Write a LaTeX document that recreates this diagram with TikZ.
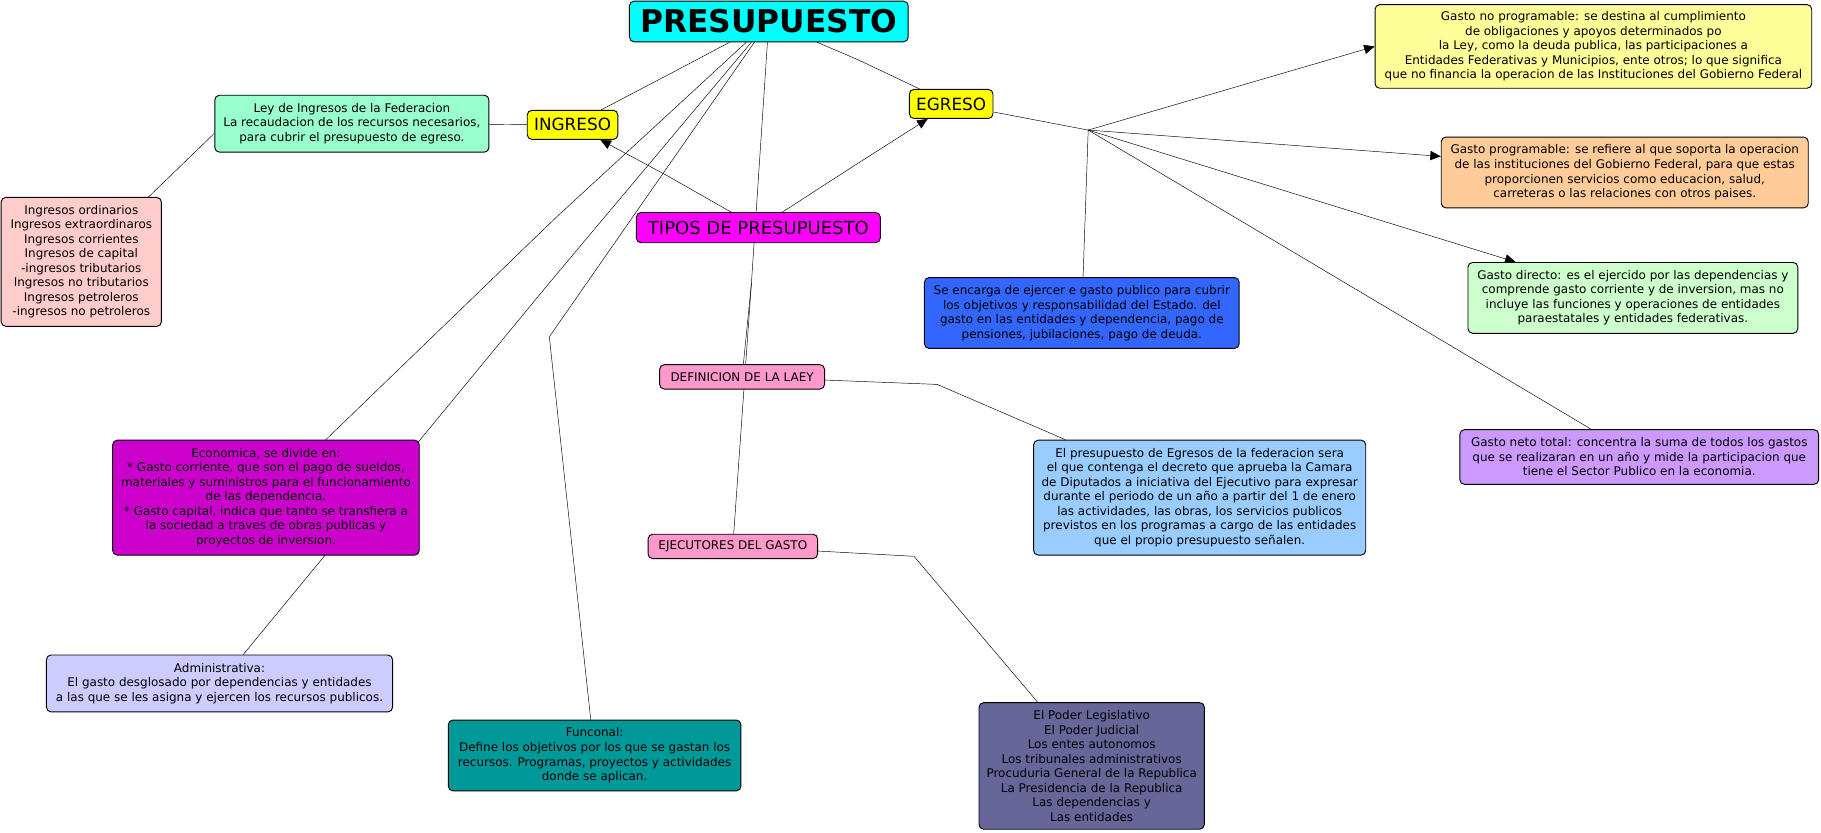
\documentclass[tikz,border=0pt]{standalone}
\usepackage{fontspec}
\setmainfont{DejaVu Sans}
\usetikzlibrary{arrows.meta,backgrounds}
\definecolor{Aqua}{HTML}{00FFFF}
\definecolor{Lemon}{HTML}{FFFF00}
\definecolor{Fuchsia}{HTML}{FF00FF}
\definecolor{Mint}{HTML}{99FFCC}
\definecolor{Blush}{HTML}{FFCCCC}
\definecolor{Cream}{HTML}{FFFF99}
\definecolor{Peach}{HTML}{FFCC99}
\definecolor{Pale}{HTML}{CCFFCC}
\definecolor{Lilac}{HTML}{CC99FF}
\definecolor{Royal}{HTML}{3366FF}
\definecolor{Pink}{HTML}{FF99CC}
\definecolor{Sky}{HTML}{99CCFF}
\definecolor{Orchid}{HTML}{CC00CC}
\definecolor{Lavender}{HTML}{CCCCFF}
\definecolor{Teal}{HTML}{009999}
\definecolor{Slate}{HTML}{666699}

\begin{document}
\begin{tikzpicture}[x=1pt,y=-1pt,line width=.8pt,
  concept/.style={draw,rounded corners=4pt,align=center,inner sep=1pt,font=\fontsize{10.3}{12.5}\selectfont},
  big/.style={concept,font=\fontsize{14.5}{17}\selectfont},
  tip/.style={-{Triangle[length=9pt,width=8pt]}}]
  \useasboundingbox (0,0) rectangle (1568,717);
  \node[concept,fill=Aqua,minimum width=240,minimum height=35,font=\fontsize{27}{30}\selectfont\bfseries] (pres) at (662,18.5) {PRESUPUESTO};
  \node[big,fill=Lemon,minimum width=78,minimum height=25] (ing) at (493,107.5) {INGRESO};
  \node[big,fill=Lemon,minimum width=72,minimum height=25] (egr) at (819,89.5) {EGRESO};
  \node[big,fill=Fuchsia,minimum width=210,minimum height=26,font=\fontsize{15.5}{18}\selectfont] (tipos) at (653,196) {TIPOS DE PRESUPUESTO};
  \node[concept,fill=Mint,minimum width=236,minimum height=49] (ley) at (303,106.5) {Ley de Ingresos de la Federacion\\La recaudacion de los recursos necesarios,\\para cubrir el presupuesto de egreso.};
  \node[concept,fill=Blush,minimum width=138,minimum height=111] (ingl) at (70,225.5) {Ingresos ordinarios\\Ingresos extraordinaros\\Ingresos corrientes\\Ingresos de capital\\-ingresos tributarios\\Ingresos no tributarios\\Ingresos petroleros\\-ingresos no petroleros};
  \node[concept,fill=Cream,minimum width=376,minimum height=72] (gnp) at (1372,40) {Gasto no programable: se destina al cumplimiento\\de obligaciones y apoyos determinados po\\la Ley, como la deuda publica, las participaciones a\\Entidades Federativas y Municipios, ente otros; lo que significa\\que no financia la operacion de las Instituciones del Gobierno Federal};
  \node[concept,fill=Peach,minimum width=316,minimum height=61] (gp) at (1399,148.5) {Gasto programable: se refiere al que soporta la operacion\\de las instituciones del Gobierno Federal, para que estas\\proporcionen servicios como educacion, salud,\\carreteras o las relaciones con otros paises.};
  \node[concept,fill=Pale,minimum width=284,minimum height=61] (gd) at (1406,256.5) {Gasto directo: es el ejercido por las dependencias y\\comprende gasto corriente y de inversion, mas no\\incluye las funciones y operaciones de entidades\\paraestatales y entidades federativas.};
  \node[concept,fill=Lilac,minimum width=309,minimum height=47] (gnt) at (1411.5,393.5) {Gasto neto total: concentra la suma de todos los gastos\\que se realizaran en un año y mide la participacion que\\tiene el Sector Publico en la economia.};
  \node[concept,fill=Royal,minimum width=271,minimum height=61] (enc) at (931.5,269.5) {Se encarga de ejercer e gasto publico para cubrir\\los objetivos y responsabilidad del Estado. del\\gasto en las entidades y dependencia, pago de\\pensiones, jubilaciones, pago de deuda.};
  \node[concept,fill=Pink,minimum width=142,minimum height=21] (defl) at (639,324.5) {DEFINICION DE LA LAEY};
  \node[concept,fill=Sky,minimum width=286,minimum height=99] (pef) at (1033,428.5) {El presupuesto de Egresos de la federacion sera\\el que contenga el decreto que aprueba la Camara\\de Diputados a iniciativa del Ejecutivo para expresar\\durante el periodo de un año a partir del 1 de enero\\las actividades, las obras, los servicios publicos\\previstos en los programas a cargo de las entidades\\que el propio presupuesto señalen.};
  \node[concept,fill=Pink,minimum width=146,minimum height=21] (ejec) at (631,470.5) {EJECUTORES DEL GASTO};
  \node[concept,fill=Orchid,minimum width=264,minimum height=99] (econ) at (229,428.5) {Economica, se divide en:\\* Gasto corriente, que son el pago de sueldos,\\materiales y suministros para el funcionamiento\\de las dependencia.\\* Gasto capital, indica que tanto se transfiera a\\la sociedad a traves de obras publicas y\\proyectos de inversion.};
  \node[concept,fill=Lavender,minimum width=298,minimum height=49] (adm) at (189,588.5) {Administrativa:\\El gasto desglosado por dependencias y entidades\\a las que se les asigna y ejercen los recursos publicos.};
  \node[concept,fill=Teal,minimum width=252,minimum height=61] (func) at (512,650.5) {Funconal:\\Define los objetivos por los que se gastan los\\recursos. Programas, proyectos y actividades\\donde se aplican.};
  \node[concept,fill=Slate,minimum width=194,minimum height=109] (pod) at (940,659.5) {El Poder Legislativo\\El Poder Judicial\\Los entes autonomos\\Los tribunales administrativos\\Procuduria General de la Republica\\La Presidencia de la Republica\\Las dependencias y\\Las entidades};
  \coordinate (m1) at (578,63);
  \coordinate (m2) at (740,52);
  \coordinate (m3) at (574,151);
  \coordinate (m4) at (735,143);
  \coordinate (m5) at (478,188);
  \coordinate (m6) at (471,246);
  \coordinate (m7) at (473,290);
  \coordinate (m8) at (647,244);
  \coordinate (m9) at (807,331);
  \coordinate (m10) at (787,479);
  \coordinate (me) at (937,112);
  \begin{scope}[on background layer]
    \fill[white] (0,0) rectangle (1568,717);
    \draw (pres)--(m1)--(ing);\draw (pres)--(m2)--(egr);
    \draw[tip] (tipos)--(m3)--(ing);\draw[tip] (tipos)--(m4)--(egr);
    \draw (pres)--(m5)--(econ);\draw (pres)--(m6)--(adm);\draw (pres)--(m7)--(func);
    \draw (pres)--(m8)--(defl);\draw (m8)--(ejec);
    \draw (defl)--(m9)--(pef);\draw (ejec)--(m10)--(pod);
    \draw (ing)--(ley);\draw (ley.184)--(ingl.44);
    \draw (egr)--(me);
    \draw[tip] (me)--(gnp.west);\draw[tip] (me)--(gp.175);\draw[tip] (me)--(gd.163);
    \draw (me)--(gnt.150);\draw (me)--(enc);
  \end{scope}
\end{tikzpicture}
\end{document}
